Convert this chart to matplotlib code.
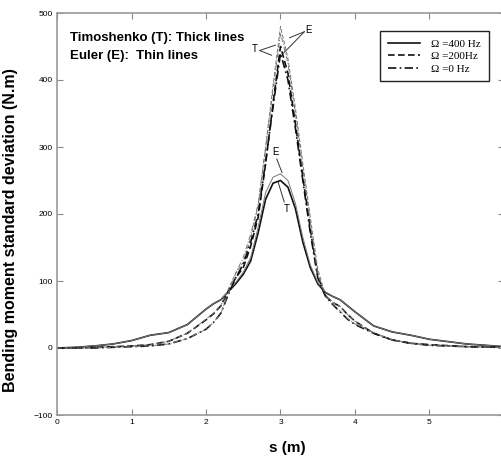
import matplotlib
matplotlib.use('Agg')
import matplotlib.pyplot as plt

# ── Data ────────────────────────────────────────────────────────────────────
s = [0, 0.25, 0.5, 0.75, 1.0, 1.25, 1.5, 1.75, 2.0, 2.1, 2.2, 2.3, 2.4, 2.5,
     2.6, 2.7, 2.8, 2.9, 3.0, 3.1, 3.2, 3.3, 3.4, 3.5, 3.6, 3.7, 3.8, 3.9,
     4.0, 4.25, 4.5, 4.75, 5.0, 5.5, 6.0]

# Omega = 400 Hz (solid)
t400 = [0, 1, 3, 6, 11, 19, 23, 35, 58, 66, 72, 84, 96, 110,
        130, 172, 222, 246, 250, 240, 208, 158, 120, 96, 83, 77, 72, 63,
        54, 33, 24, 19, 13, 6, 2]
e400 = [0, 1, 3, 6, 11, 19, 23, 35, 58, 66, 72, 85, 98, 113,
        135, 180, 232, 255, 260, 250, 216, 165, 124, 98, 84, 77, 72, 63,
        54, 33, 24, 19, 13, 6, 2]
# Omega = 200 Hz (dashed)
t200 = [0, 0, 1, 2, 3, 5, 10, 22, 42, 51, 63, 85, 105, 120,
        152, 195, 275, 365, 450, 410, 335, 255, 178, 108, 78, 68, 62, 50,
        40, 22, 12, 7, 5, 2, 1]
e200 = [0, 0, 1, 2, 3, 5, 10, 22, 43, 52, 64, 88, 112, 128,
        165, 212, 300, 392, 480, 432, 358, 275, 195, 118, 80, 68, 62, 50,
        40, 22, 12, 7, 5, 2, 1]
# Omega = 0 Hz (dash-dot)
t0 = [0, 0, 0, 1, 2, 3, 6, 14, 28, 38, 52, 80, 105, 125,
      158, 200, 278, 360, 440, 400, 328, 250, 172, 105, 78, 65, 54, 43,
      35, 22, 12, 7, 4, 2, 1]
e0 = [0, 0, 0, 1, 2, 3, 6, 14, 28, 38, 52, 82, 112, 135,
      170, 215, 298, 385, 470, 425, 350, 268, 188, 110, 80, 66, 55, 44,
      36, 23, 12, 7, 4, 2, 1]

legend_labels = ['\u03a9 =400 Hz', '\u03a9 =200Hz', '\u03a9 =0 Hz']
x_ticks = [0, 1, 2, 3, 4, 5, 6]
x_ticklabels = ['0', '1', '2', '3', '4', '5', '']
y_ticks = [-100, 0, 100, 200, 300, 400, 500]

# ── Figure ──────────────────────────────────────────────────────────────────
fig = plt.figure(figsize=(5.01, 4.59), dpi=100)
ax = fig.add_axes([57 / 501, 1 - 415 / 459, 447 / 501, 402 / 459])

thick = dict(color='#111111', lw=1.2)
thin = dict(color='#777777', lw=0.7)

l1, = ax.plot(s, t400, '-', **thick)
ax.plot(s, e400, '-', **thin)
l2, = ax.plot(s, t200, '--', dashes=(4, 2), **thick)
ax.plot(s, e200, '--', dashes=(4, 2), **thin)
l3, = ax.plot(s, t0, '-.', dashes=(5, 2, 1, 2), **thick)
ax.plot(s, e0, '-.', dashes=(5, 2, 1, 2), **thin)

ax.set_xlim(0, 6)
ax.set_ylim(-100, 500)
ax.set_xticks(x_ticks)
ax.set_xticklabels(x_ticklabels)
ax.set_yticks(y_ticks)
for lab in ax.get_xticklabels() + ax.get_yticklabels():
    lab.set_family('Liberation Sans')
    lab.set_fontsize(6)
ax.tick_params(direction='in', top=True, right=True, length=4,
               width=0.8, color='#888888', pad=3)
for sp in ax.spines.values():
    sp.set_color('#999999')
    sp.set_linewidth(1.2)

ax.set_xlabel('s (m)', fontsize=11, family='Liberation Sans',
              fontweight='bold')
ax.xaxis.set_label_coords(0.515, -0.065)
ax.set_ylabel('Bending moment standard deviation (N.m)', fontsize=11.5,
              family='Liberation Sans', fontweight='bold')
ax.yaxis.set_label_coords(-0.087, 0.46)

# ── Annotations ─────────────────────────────────────────────────────────────
ax.text(0.18, 462, 'Timoshenko (T): Thick lines', fontsize=9.5,
        family='Liberation Sans', fontweight='bold', va='center')
ax.text(0.18, 436, 'Euler (E):  Thin lines', fontsize=9.5,
        family='Liberation Sans', fontweight='bold', va='center')

ann = dict(color='#333333', lw=0.7)
# upper T / E labels
ax.text(2.66, 446, 'T', fontsize=7, ha='center', va='center',
        family='Liberation Sans')
ax.plot([2.72, 2.88], [444, 437], **ann)
ax.plot([2.72, 2.93], [444, 452], **ann)
ax.text(3.37, 474, 'E', fontsize=7, ha='center', va='center',
        family='Liberation Sans')
ax.plot([3.32, 3.12], [472, 463], **ann)
ax.plot([3.32, 3.04], [472, 440], **ann)
# lower E / T labels
ax.text(2.93, 292, 'E', fontsize=7, ha='center', va='center',
        family='Liberation Sans')
ax.plot([2.95, 3.02], [282, 262], **ann)
ax.text(3.08, 208, 'T', fontsize=7, ha='center', va='center',
        family='Liberation Sans')
ax.plot([3.05, 2.97], [218, 247], **ann)

leg = ax.legend([l1, l2, l3], legend_labels, loc='upper left',
                bbox_to_anchor=(380 / 501, 1 - 31 / 459),
                bbox_transform=fig.transFigure, fancybox=False,
                edgecolor='#222222', framealpha=1, handlelength=2.9,
                prop={'family': 'Liberation Serif', 'size': 8},
                borderpad=0.7, labelspacing=0.25, handletextpad=1.0,
                borderaxespad=0)
leg.get_frame().set_linewidth(1.0)

fig.savefig('out.png', dpi=100)
